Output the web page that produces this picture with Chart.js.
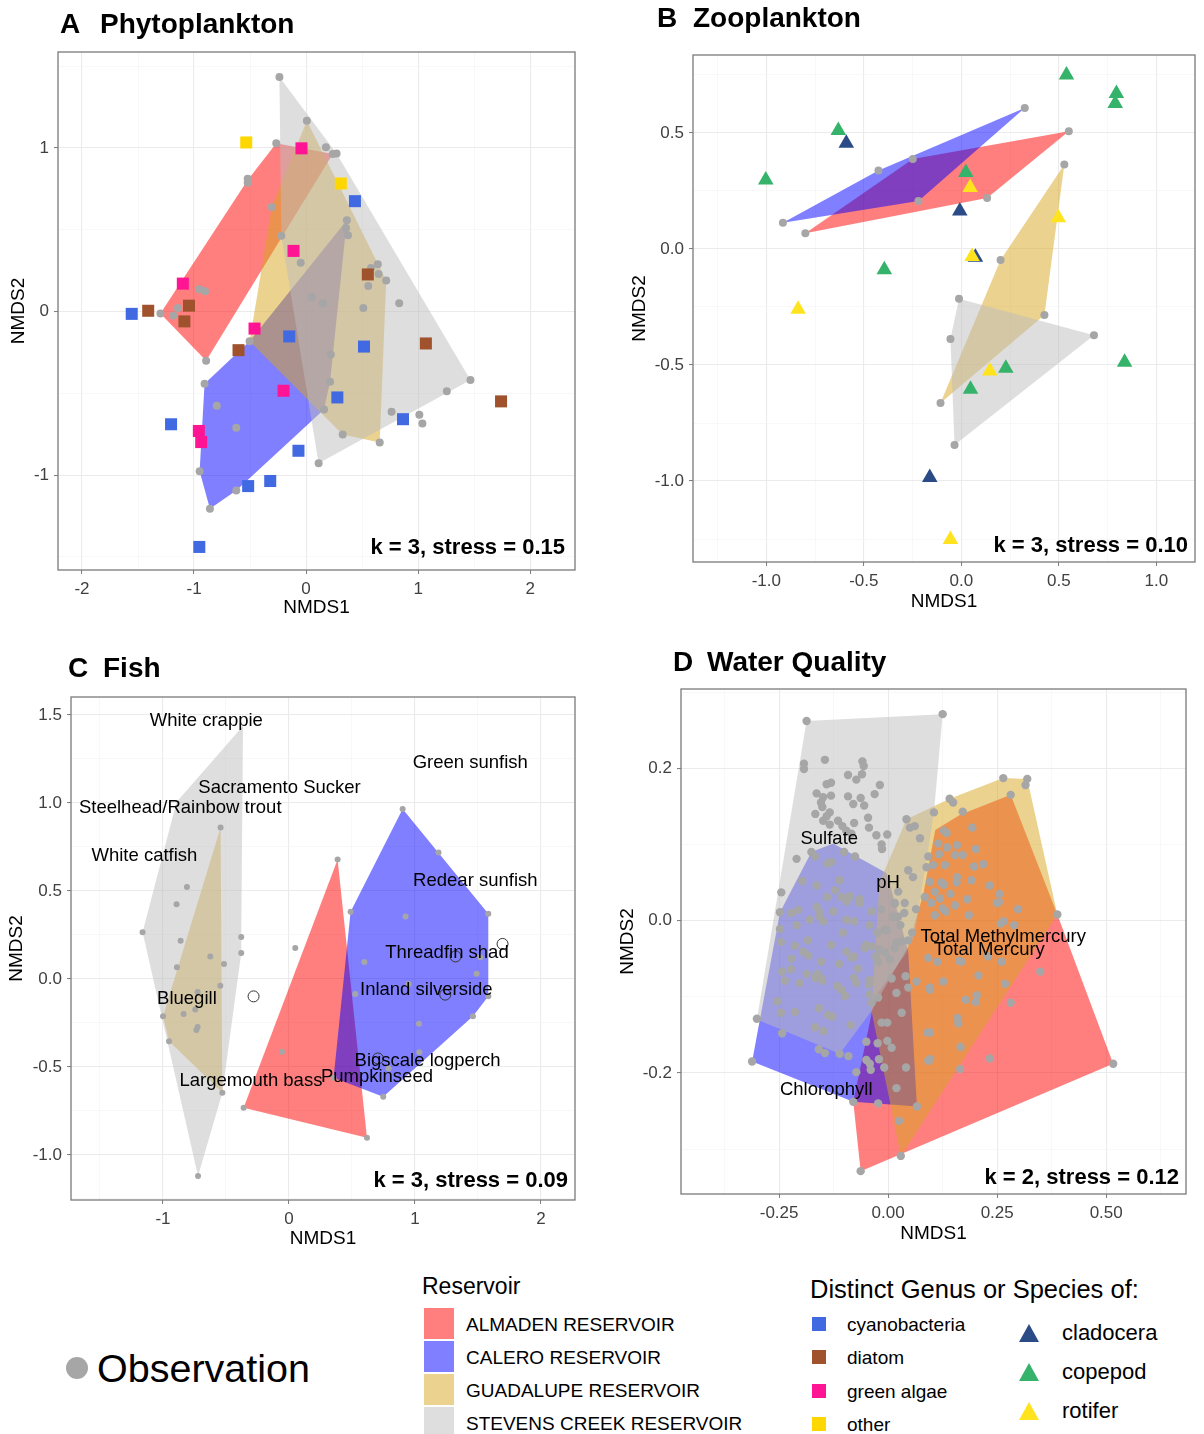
<!DOCTYPE html>
<html>
<head>
<meta charset="utf-8">
<script src="https://cdn.jsdelivr.net/npm/chart.js@4.4.1/dist/chart.umd.min.js"></script>
<style>
  body { margin: 0; background: #fff; font-family: 'Liberation Sans', Arial, sans-serif; }
  #page { position: relative; width: 1204px; height: 1434px; overflow: hidden; background: #fff; }
  canvas { position: absolute; }
  .ttl { position: absolute; font-weight: bold; font-size: 28px; line-height: 28px; color: #000; white-space: nowrap; }
  .lg { position: absolute; white-space: nowrap; color: #000; }
</style>
</head>
<body>
<div id="page">
  <canvas id="cA" width="600" height="630" style="left:0;top:0"></canvas>
  <canvas id="cB" width="604" height="630" style="left:600px;top:0"></canvas>
  <canvas id="cC" width="600" height="620" style="left:0;top:640px"></canvas>
  <canvas id="cD" width="604" height="620" style="left:600px;top:640px"></canvas>

  <div class="ttl" style="left:60px;top:10px">A</div>
  <div class="ttl" style="left:100px;top:10px">Phytoplankton</div>
  <div class="ttl" style="left:657px;top:4px">B</div>
  <div class="ttl" style="left:693px;top:4px">Zooplankton</div>
  <div class="ttl" style="left:68px;top:654px">C</div>
  <div class="ttl" style="left:103px;top:654px">Fish</div>
  <div class="ttl" style="left:673px;top:648px">D</div>
  <div class="ttl" style="left:707px;top:648px">Water Quality</div>

  <div id="legend"></div>
</div>

<script>
const FONT = "'Liberation Sans', Arial, sans-serif";

// reservoir hull colours (ggplot alpha 0.5)
const reservoirs = ['ALMADEN RESERVOIR', 'CALERO RESERVOIR', 'GUADALUPE RESERVOIR', 'STEVENS CREEK RESERVOIR'];
const reservoirFill = ['rgba(255,0,0,0.5)', 'rgba(0,0,255,0.5)', 'rgba(218,165,32,0.5)', 'rgba(190,190,190,0.5)'];
const obsColor = '#a6a6a6';

const phytoGroups = ['cyanobacteria', 'diatom', 'green algae', 'other'];
const phytoColors = ['#4169e1', '#a0522d', '#ff1493', '#ffd700'];
const zooGroups = ['cladocera', 'copepod', 'rotifer'];
const zooColors = ['#2b4b86', '#35b36b', '#ffe31f'];

// ---- A: phytoplankton ----
const phytoObs = [[-0.238,1.434],[0.007,1.166],[-0.266,1.029],[0.177,1.005],[0.238,0.964],[0.272,0.966],[-0.521,0.812],[-0.521,0.788],
  [-0.306,0.639],[-0.221,0.463],[0.364,0.559],[0.357,0.511],[0.374,0.467],[-0.048,0.299],[0.579,0.267],[0.640,0.289],[0.647,0.229],
  [0.715,0.190],[0.555,0.157],[0.831,0.051],[0.051,0.089],[0.150,0.051],[0.511,0.022],[-0.953,0.137],[-0.902,0.125],[-1.144,0.022],
  [-1.300,-0.012],[-1.185,-0.024],[-0.892,-0.301],[-0.504,-0.181],[0.221,-0.263],[0.214,-0.429],[-0.906,-0.441],[-0.797,-0.576],
  [-0.623,-0.711],[0.160,-0.598],[1.467,-0.419],[1.256,-0.487],[0.763,-0.612],[1.011,-0.631],[1.038,-0.684],[0.327,-0.752],
  [0.657,-0.800],[0.112,-0.928],[-0.950,-0.976],[-0.623,-1.094],[-0.858,-1.205]];
const phytoHullAlmaden = [[-1.300,-0.012],[-0.521,0.805],[-0.266,1.029],[0.238,0.964],[-0.892,-0.301]];
const phytoHullCalero = [[0.364,0.559],[0.214,-0.429],[0.160,-0.598],[-0.623,-1.094],[-0.858,-1.205],[-0.950,-0.976],[-0.906,-0.441],[-0.504,-0.181]];
const phytoHullGuadalupe = [[0.007,1.166],[0.715,0.190],[0.657,-0.800],[0.327,-0.752],[-0.504,-0.181],[-0.306,0.639]];
const phytoHullStevens = [[-0.238,1.434],[0.272,0.966],[1.467,-0.419],[0.112,-0.928],[-0.221,0.463]];
const phytoCyano = [[-1.556,-0.014],[0.436,0.675],[-0.150,-0.152],[0.517,-0.214],[0.279,-0.525],[0.865,-0.658],[-1.205,-0.689],
  [-0.068,-0.851],[-0.517,-1.067],[-0.320,-1.036],[-0.953,-1.439]];
const phytoDiatom = [[-1.409,0.005],[-1.045,0.036],[-1.086,-0.060],[-0.603,-0.236],[0.551,0.227],[1.069,-0.195],[1.740,-0.549]];
const phytoGreen = [[-0.041,0.998],[-1.100,0.171],[-0.112,0.371],[-0.460,-0.104],[-0.201,-0.484],[-0.957,-0.730],[-0.936,-0.798]];
const phytoOther = [[-0.534,1.034],[0.310,0.783]];

// ---- B: zooplankton ----
const zooObs = [[0.325,0.608],[0.551,0.507],[-0.249,0.388],[-0.425,0.338],[-0.220,0.207],[0.132,0.220],[-0.915,0.113],[-0.800,0.068],
  [0.528,0.364],[0.201,-0.048],[-0.012,-0.215],[0.426,-0.285],[-0.056,-0.388],[0.680,-0.372],[-0.107,-0.664],[-0.035,-0.845]];
const zooHullAlmaden = [[-0.800,0.068],[-0.249,0.388],[0.551,0.507],[0.132,0.220]];
const zooHullCalero = [[-0.915,0.113],[-0.425,0.338],[0.325,0.608],[-0.220,0.207]];
const zooHullGuadalupe = [[0.528,0.364],[0.426,-0.285],[-0.107,-0.664],[0.201,-0.048]];
const zooHullStevens = [[-0.012,-0.215],[0.680,-0.372],[-0.035,-0.845],[-0.056,-0.388]];
const zooCladocera = [[-0.590,0.456],[-0.008,0.164],[0.072,-0.036],[-0.162,-0.985]];
const zooCopepod = [[-0.631,0.511],[-1.003,0.297],[0.023,0.330],[0.539,0.750],[0.795,0.670],[0.789,0.627],[-0.395,-0.089],
  [0.837,-0.488],[0.228,-0.514],[0.047,-0.605]];
const zooRotifer = [[0.045,0.265],[0.497,0.135],[0.055,-0.032],[-0.837,-0.260],[0.146,-0.526],[-0.056,-1.252]];

// ---- C: fish ----
const fishObs = [[-0.722,-1.120],[-0.543,0.860],[-0.810,0.522],[-0.892,0.425],[-1.162,0.265],[-0.379,0.238],[-0.379,0.148],
  [-0.860,0.217],[-0.625,0.128],[-0.516,0.085],[-0.889,0.066],[-0.545,-0.038],[-0.725,-0.074],[-1.000,-0.212],[-0.836,-0.199],
  [-0.744,-0.174],[-0.725,-0.273],[-0.735,-0.290],[-0.952,-0.354],[-0.529,-0.647],[-0.360,-0.732],[0.386,0.679],[0.050,0.176],
  [-0.056,-0.414],[0.619,-0.902],[0.354,-0.562],[0.902,0.965],[1.187,0.719],[1.582,0.371],[0.489,0.382],[0.925,0.355],
  [0.598,0.097],[1.518,0.123],[1.489,0.030],[0.949,-0.028],[0.526,-0.085],[1.582,-0.099],[1.460,-0.212],[1.032,-0.255],
  [1.034,-0.416],[0.791,-0.509],[0.748,-0.670]];
const fishHullAlmaden = [[0.386,0.679],[-0.360,-0.732],[0.619,-0.902]];
const fishHullCalero = [[0.902,0.965],[1.582,0.371],[1.582,-0.099],[1.460,-0.212],[0.748,-0.670],[0.354,-0.562],[0.489,0.382]];
const fishHullGuadalupe = [[-0.543,0.860],[-1.000,-0.212],[-0.952,-0.354],[-0.529,-0.647]];
const fishHullStevens = [[-0.365,1.437],[-0.892,1.005],[-1.162,0.265],[-0.722,-1.120],[-0.529,-0.647],[-0.379,0.148],[-0.379,0.238]];
const fishScores = [[1.695,0.199],[-0.281,-0.099],[1.322,0.128],[1.240,-0.089],[0.706,-0.452]];
const fishNames = ['White crappie','Green sunfish','Sacramento Sucker','Steelhead/Rainbow trout','White catfish','Redear sunfish',
  'Threadfin shad','Inland silverside','Bluegill','Bigscale logperch','Pumpkinseed','Largemouth bass'];
const fishNameX = [-0.656, 1.439, -0.075, -0.863, -1.147, 1.479, 1.254, 1.090, -0.810, 1.100, 0.698, -0.302];
const fishNameY = [1.466, 1.226, 1.087, 0.972, 0.701, 0.558, 0.148, -0.061, -0.112, -0.467, -0.556, -0.581];

// ---- D: water quality ----
const wqObs = [[-0.187,0.262],[-0.193,0.206],[-0.193,0.199],[-0.145,0.211],[-0.059,0.209],[-0.056,0.203],[-0.092,0.191],[-0.060,0.192],
  [-0.073,0.185],[-0.019,0.178],[-0.141,0.179],[-0.131,0.181],[-0.164,0.167],[-0.131,0.164],[-0.149,0.162],[-0.092,0.163],[-0.063,0.161],
  [-0.080,0.153],[-0.055,0.151],[-0.031,0.166],[-0.154,0.155],[-0.151,0.149],[-0.167,0.140],[-0.134,0.142],[-0.141,0.137],[-0.149,0.131],
  [-0.134,0.126],[-0.115,0.131],[-0.105,0.124],[-0.078,0.128],[-0.046,0.135],[-0.044,0.122],[-0.096,0.118],[-0.084,0.114],[-0.027,0.112],
  [-0.002,0.113],[-0.015,0.100],[-0.014,0.094],[0.042,0.133],[0.050,0.122],[0.061,0.124],[0.073,0.108],[-0.176,0.090],[-0.168,0.084],
  [-0.210,0.081],[-0.101,0.090],[-0.076,0.084],[-0.139,0.075],[-0.130,0.077],[-0.197,0.052],[-0.111,0.053],[-0.164,0.046],[-0.245,0.037],
  [-0.122,0.040],[-0.107,0.031],[-0.088,0.032],[-0.248,0.011],[-0.222,0.010],[-0.206,0.014],[-0.164,0.018],[-0.157,0.010],[-0.126,0.012],
  [-0.065,0.023],[-0.248,-0.011],[-0.180,0.001],[-0.149,-0.001],[-0.096,0.001],[-0.038,0.012],[0.015,0.022],[0.023,0.038],[0.038,0.023],
  [0.046,0.066],[0.057,0.057],[0.092,0.084],[0.088,0.070],[0.096,0.051],[0.084,0.031],[0.099,0.023],[-0.008,-0.012],[0.023,0.005],
  [0.125,0.271],[0.264,0.187],[0.319,0.186],[0.315,0.178],[0.281,0.165],[0.141,0.160],[0.149,0.155],[0.105,0.142],[0.171,0.143],
  [0.193,0.122],[0.128,0.118],[0.134,0.115],[0.115,0.101],[0.158,0.099],[0.135,0.096],[0.201,0.094],[0.117,0.087],[0.153,0.086],
  [0.171,0.086],[0.103,0.073],[0.130,0.073],[0.197,0.071],[0.218,0.074],[0.158,0.057],[0.191,0.053],[0.122,0.050],[0.128,0.047],
  [0.157,0.050],[0.233,0.046],[0.107,0.038],[0.143,0.035],[0.255,0.035],[0.181,0.028],[0.119,0.029],[0.249,0.023],[0.254,0.024],
  [0.153,0.020],[0.125,0.016],[0.132,0.012],[0.107,0.007],[0.185,0.007],[0.298,0.015],[0.388,0.008],[0.265,-0.001],[0.258,-0.004],
  [0.289,-0.006],[0.113,-0.054],[0.163,-0.053],[0.168,-0.054],[0.229,-0.047],[0.260,-0.054],[0.126,-0.080],[0.207,-0.072],[0.268,-0.083],
  [0.349,-0.067],[0.178,-0.104],[0.203,-0.098],[0.201,-0.107],[0.281,-0.108],[0.159,-0.128],[0.161,-0.135],[0.096,-0.147],[0.166,-0.166],
  [0.233,-0.181],[0.096,-0.182],[0.165,-0.195],[0.516,-0.188],[0.096,-0.088],[-0.246,-0.028],[-0.214,-0.033],[-0.195,-0.041],
  [-0.183,-0.046],[-0.222,-0.050],[-0.154,-0.054],[-0.096,-0.041],[-0.083,-0.049],[-0.243,-0.067],[-0.237,-0.079],[-0.223,-0.064],
  [-0.187,-0.070],[-0.167,-0.075],[-0.154,-0.076],[-0.162,-0.070],[-0.203,-0.082],[-0.151,-0.079],[-0.117,-0.086],[-0.107,-0.091],
  [-0.099,-0.099],[-0.073,-0.082],[-0.078,-0.075],[-0.069,-0.063],[-0.254,-0.106],[-0.246,-0.121],[-0.214,-0.120],[-0.159,-0.115],
  [-0.138,-0.124],[-0.128,-0.126],[-0.086,-0.137],[-0.301,-0.129],[-0.243,-0.148],[-0.168,-0.140],[-0.149,-0.145],[-0.312,-0.185],
  [-0.159,-0.169],[-0.145,-0.174],[-0.111,-0.175],[-0.091,-0.178],[-0.050,-0.159],[-0.024,-0.161],[-0.002,-0.158],[0.008,-0.167],
  [-0.050,-0.183],[-0.042,-0.188],[-0.040,-0.196],[-0.021,-0.182],[-0.009,-0.193],[-0.073,-0.199],[0.041,-0.193],[0.019,-0.220],
  [-0.080,-0.238],[-0.023,-0.240],[0.066,-0.244],[0.025,-0.263],[0.029,-0.309],[-0.063,-0.329],[-0.054,-0.036],[-0.038,-0.034],
  [-0.021,-0.038],[-0.023,-0.054],[0.004,-0.051],[-0.044,-0.084],[-0.042,-0.097],[-0.038,-0.108],[-0.023,-0.101],[-0.015,-0.134],
  [-0.002,-0.134],[0.019,-0.095],[0.040,-0.073],[0.046,-0.088],[0.031,-0.121],[0.065,-0.080],[0.092,-0.049],[0.096,-0.091],
  [0.090,-0.147],[0.092,-0.184],[0.008,-0.076],[0.015,-0.036],[0.031,-0.027],[-0.042,-0.006],[-0.025,-0.016],[-0.003,-0.013],
  [0.011,0.005],[0.028,-0.006],[0.019,-0.029],[-0.007,-0.042],[-0.029,-0.047],[-0.051,-0.032],[0.046,-0.026],[0.037,0.010],
  [0.064,0.015],[0.055,-0.016],[-0.016,0.015],[0.015,0.023],[-0.065,0.028],[-0.095,0.025],[-0.078,-0.001],[-0.104,-0.016],
  [-0.131,-0.032],[-0.078,-0.047],[-0.113,-0.057],[-0.157,0.005],[-0.184,-0.026],[-0.210,-0.006],[-0.140,0.031],[-0.042,-0.078]];
const wqHullAlmaden = [[0.281,0.165],[0.388,0.008],[0.516,-0.188],[-0.063,-0.329],[-0.080,-0.238],[-0.030,-0.100],[0.042,-0.042],
  [0.081,0.036],[0.108,0.119],[0.165,0.139]];
const wqHullCalero = [[-0.126,0.101],[-0.176,0.090],[-0.248,0.011],[-0.312,-0.185],[-0.080,-0.238],[0.066,-0.244],[0.046,-0.040],[-0.003,0.062]];
const wqHullGuadalupe = [[0.042,0.133],[0.141,0.160],[0.264,0.187],[0.319,0.186],[0.388,0.008],[0.029,-0.309],[-0.038,-0.119],[-0.020,0.050]];
const wqHullStevens = [[-0.187,0.262],[0.125,0.271],[0.105,0.142],[0.060,-0.020],[-0.040,-0.120],[-0.111,-0.175],[-0.301,-0.130]];
const wqNames = ['Sulfate', 'pH', 'Total Methylmercury', 'Total Mercury', 'Chlorophyll'];
const wqNameX = [-0.135, 0.000, 0.264, 0.232, -0.142];
const wqNameY = [0.107, 0.050, -0.022, -0.038, -0.222];

// ---- helpers ----
const pts = a => a.map(([x, y]) => ({x, y}));
const hull = (a, i) => ({ type: 'line', data: pts([...a, a[0]]), backgroundColor: reservoirFill[i], borderWidth: 0,
  pointRadius: 0, fill: 'shape', tension: 0, order: 4 - i });
const marks = (a, color, style, r) => ({ type: 'scatter', data: pts(a), backgroundColor: color, borderWidth: 0,
  pointStyle: style, pointRadius: r, order: 0 });

function axis(o, horizontal) {
  const isMajor = v => o.majors.some(m => Math.abs(m - v) < 1e-9);
  return {
    type: 'linear', min: o.min, max: o.max, bounds: 'data',
    afterBuildTicks: s => { s.ticks = [...o.majors, ...o.minors].sort((a, b) => a - b).map(v => ({value: v})); },
    afterFit: s => { if (horizontal) s.height = o.size; else s.width = o.size; },
    grid: {
      color: c => c.tick && isMajor(c.tick.value) ? '#ebebeb' : '#f4f4f4',
      lineWidth: c => c.tick && isMajor(c.tick.value) ? 1.1 : 0.6,
      tickColor: c => c.tick && isMajor(c.tick.value) ? '#7a7a7a' : 'rgba(0,0,0,0)',
      tickLength: 4, tickWidth: 1
    },
    border: { display: false },
    ticks: { autoSkip: false, maxRotation: 0, padding: 5, color: '#404040', font: { size: 17, family: FONT },
      callback: v => isMajor(v) ? v.toFixed(o.dec) : '' },
    title: { display: true, text: horizontal ? 'NMDS1' : 'NMDS2', color: '#000', font: { size: 19, family: FONT },
      padding: horizontal ? { top: 0, bottom: o.tpad } : { top: o.tpad, bottom: 0 } }
  };
}

const framePlugin = {
  id: 'frame',
  afterDatasetsDraw(chart, args, opts) {
    const {ctx, chartArea: a, scales} = chart;
    ctx.save();
    ctx.fillStyle = '#000';
    ctx.textAlign = 'center'; ctx.textBaseline = 'middle';
    ctx.font = `18.5px ${FONT}`;
    (opts.labels || []).forEach(l => ctx.fillText(l.text, scales.x.getPixelForValue(l.x), scales.y.getPixelForValue(l.y)));
    ctx.strokeStyle = '#7a7a7a'; ctx.lineWidth = 1.3;
    ctx.strokeRect(a.left, a.top, a.right - a.left, a.bottom - a.top);
    ctx.font = `bold 22px ${FONT}`;
    ctx.textAlign = 'right';
    ctx.fillText(opts.note, a.right - opts.dx, a.bottom - opts.dy);
    ctx.restore();
  }
};

function panel(id, p) {
  new Chart(document.getElementById(id), {
    type: 'scatter',
    data: { datasets: p.datasets },
    options: {
      responsive: false, animation: false, events: [],
      layout: { padding: { left: 0, top: p.top, right: p.right, bottom: 0 } },
      plugins: { legend: { display: false }, tooltip: { enabled: false },
        frame: { note: p.note, dx: p.dx, dy: p.dy, labels: p.labels } },
      scales: { x: axis(p.x, true), y: axis(p.y, false) }
    },
    plugins: [framePlugin]
  });
}

panel('cA', {
  top: 52, right: 25, note: 'k = 3, stress = 0.15', dx: 10, dy: 22,
  x: { min: -2.214, max: 2.40, majors: [-2, -1, 0, 1, 2], minors: [-1.5, -0.5, 0.5, 1.5], dec: 0, size: 60, tpad: 11 },
  y: { min: -1.58, max: 1.587, majors: [-1, 0, 1], minors: [-1.5, -0.5, 0.5, 1.5], dec: 0, size: 58, tpad: 7.6 },
  datasets: [
    marks(phytoOther, phytoColors[3], 'rect', 8.5),
    marks(phytoGreen, phytoColors[2], 'rect', 8.5),
    marks(phytoDiatom, phytoColors[1], 'rect', 8.5),
    marks(phytoCyano, phytoColors[0], 'rect', 8.5),
    marks(phytoObs, obsColor, 'circle', 4),
    hull(phytoHullStevens, 3), hull(phytoHullGuadalupe, 2), hull(phytoHullCalero, 1), hull(phytoHullAlmaden, 0)
  ]
});

panel('cB', {
  top: 55, right: 4, note: 'k = 3, stress = 0.10', dx: 7, dy: 16,
  x: { min: -1.376, max: 1.198, majors: [-1, -0.5, 0, 0.5, 1], minors: [-1.25, -0.75, -0.25, 0.25, 0.75], dec: 1, size: 68, tpad: 17 },
  y: { min: -1.349, max: 0.836, majors: [-1, -0.5, 0, 0.5], minors: [-1.25, -0.75, -0.25, 0.25, 0.75], dec: 1, size: 93, tpad: 28.6 },
  datasets: [
    marks(zooRotifer, zooColors[2], 'triangle', 9),
    marks(zooCopepod, zooColors[1], 'triangle', 9),
    marks(zooCladocera, zooColors[0], 'triangle', 9),
    marks(zooObs, obsColor, 'circle', 4),
    hull(zooHullStevens, 3), hull(zooHullGuadalupe, 2), hull(zooHullCalero, 1), hull(zooHullAlmaden, 0)
  ]
});

panel('cC', {
  top: 57, right: 25, note: 'k = 3, stress = 0.09', dx: 7, dy: 19,
  labels: fishNames.map((t, i) => ({ text: t, x: fishNameX[i], y: fishNameY[i] })),
  x: { min: -1.73, max: 2.27, majors: [-1, 0, 1, 2], minors: [-1.5, -0.5, 0.5, 1.5], dec: 0, size: 60, tpad: 10 },
  y: { min: -1.256, max: 1.602, majors: [-1, -0.5, 0, 0.5, 1, 1.5], minors: [-1.25, -0.75, -0.25, 0.25, 0.75, 1.25], dec: 1, size: 71, tpad: 5.6 },
  datasets: [
    { type: 'scatter', data: pts(fishScores), backgroundColor: 'rgba(0,0,0,0)', borderColor: '#333', borderWidth: 1, pointRadius: 5.5, order: 0 },
    marks(fishObs, obsColor, 'circle', 3),
    hull(fishHullStevens, 3), hull(fishHullGuadalupe, 2), hull(fishHullCalero, 1), hull(fishHullAlmaden, 0)
  ]
});

panel('cD', {
  top: 49, right: 18, note: 'k = 2, stress = 0.12', dx: 7, dy: 16,
  labels: wqNames.map((t, i) => ({ text: t, x: wqNameX[i], y: wqNameY[i] })),
  x: { min: -0.475, max: 0.683, majors: [-0.25, 0, 0.25, 0.5], minors: [-0.375, -0.125, 0.125, 0.375, 0.625], dec: 2, size: 66, tpad: 15 },
  y: { min: -0.359, max: 0.304, majors: [-0.2, 0, 0.2], minors: [-0.3, -0.1, 0.1, 0.3], dec: 1, size: 81, tpad: 16.6 },
  datasets: [
    marks(wqObs, obsColor, 'circle', 4.2),
    hull(wqHullStevens, 3), hull(wqHullGuadalupe, 2), hull(wqHullCalero, 1), hull(wqHullAlmaden, 0)
  ]
});

// ---- legend ----
const lg = document.getElementById('legend');
const add = (html, css) => { const d = document.createElement('div'); d.className = 'lg'; d.style.cssText = css; d.innerHTML = html; lg.appendChild(d); };
add('', `left:66px;top:1357px;width:22px;height:22px;border-radius:50%;background:${obsColor}`);
add('Observation', 'left:97px;top:1349px;font-size:39.5px;line-height:39px');
add('Reservoir', 'left:422px;top:1275px;font-size:23px;line-height:23px');
reservoirs.forEach((r, i) => {
  add('', `left:424px;top:${1308 + i * 33}px;width:30px;height:31px;background:${reservoirFill[i]}`);
  add(r, `left:466px;top:${1315 + i * 33}px;font-size:19px;line-height:19px`);
});
add('Distinct Genus or Species of:', 'left:810px;top:1277px;font-size:25.5px;line-height:25px');
phytoGroups.forEach((g, i) => {
  add('', `left:812px;top:${1317 + i * 33.4}px;width:14px;height:14px;background:${phytoColors[i]}`);
  add(g, `left:847px;top:${1315 + i * 33.4}px;font-size:19px;line-height:19px`);
});
zooGroups.forEach((g, i) => {
  add(`<svg width="22" height="20"><polygon points="11,1 21,19 1,19" fill="${zooColors[i]}"/></svg>`,
    `left:1018px;top:${1323 + i * 39}px;line-height:0`);
  add(g, `left:1062px;top:${1322 + i * 39}px;font-size:22px;line-height:22px`);
});
</script>
</body>
</html>
